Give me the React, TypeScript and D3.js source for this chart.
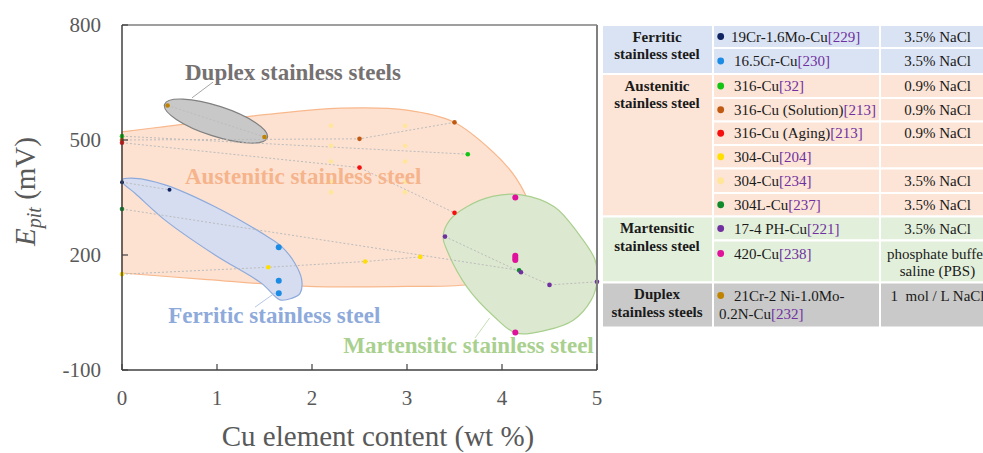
import React from 'react';
import * as d3 from 'd3';

type Pt = [number, number];

// axis ticks
const xTicks = [0, 1, 2, 3, 4, 5];
const yTicks = [-100, 200, 500, 800];

// Cu (wt %), E_pit (mV) for each alloy
const fer19Cr: Pt[] = [[0, 390], [0.5, 370]];
const fer16Cr: Pt[] = [[1.65, 220], [1.65, 133], [1.65, 100]];
const aus316: Pt[] = [[0, 510], [3.64, 463]];
const aus316Sol: Pt[] = [[0, 500], [2.5, 503], [3.5, 546]];
const aus316Age: Pt[] = [[0, 493], [2.5, 428], [3.5, 310]];
const aus304a: Pt[] = [[0, 150], [1.54, 168], [2.56, 183], [3.14, 195]];
const aus304b: Pt[] = [
  [2.2, 537], [2.2, 485], [2.2, 444], [2.2, 391], [2.2, 364],
  [2.98, 537], [2.98, 485], [2.98, 444], [2.98, 391], [2.98, 364],
];
const aus304L: Pt[] = [[0, 320], [4.18, 160]];
const mar174: Pt[] = [[3.4, 248], [4.2, 155], [4.5, 122], [5, 130]];
const mar420: Pt[] = [[4.14, 350], [4.14, 198], [4.14, 192], [4.14, 187], [4.14, -2]];
const dup21Cr: Pt[] = [[0.48, 590], [1.5, 508]];

// hand drawn group outlines (data space)
const austeniticOutline: Pt[] = [
  [0, 521], [0.45, 535], [1.5, 566], [2.3, 583], [3.0, 578], [3.49, 547], [3.9, 470],
  [4.15, 400], [4.3, 320], [4.3, 230], [4.1, 160], [3.7, 125], [3.0, 118], [1.9, 119],
  [0.9, 136], [0, 153],
];
const ferriticOutline: Pt[] = [
  [0, 396], [0.137, 400], [0.453, 383], [0.979, 326], [1.505, 252], [1.681, 222],
  [1.821, 178], [1.892, 135], [1.874, 100], [1.786, 87], [1.663, 83], [1.47, 126],
  [0.979, 200], [0.453, 291], [0.137, 361], [0.014, 387],
];
const martensiticOutline: Pt[] = [
  [4.2, 357], [4.55, 326], [4.8, 257], [4.98, 187], [5.0, 131], [4.94, 83], [4.75, 30],
  [4.47, 4], [4.15, -4], [3.91, 41], [3.63, 117], [3.42, 213], [3.38, 248], [3.45, 291],
  [3.63, 326], [3.9, 353],
];
const duplexAxis: Pt[] = [[0.448, 593], [1.53, 506]];

const series = [
  { key: 'fer19Cr', name: ['19Cr-1.6Mo-Cu'], ref: '[229]', medium: ['3.5% NaCl'], color: '#0f2461', data: fer19Cr, joined: true, r: 2 },
  { key: 'fer16Cr', name: ['16.5Cr-Cu'], ref: '[230]', medium: ['3.5% NaCl'], color: '#1b8be4', data: fer16Cr, joined: false, r: 3 },
  { key: 'aus316', name: ['316-Cu'], ref: '[32]', medium: ['0.9% NaCl'], color: '#14c414', data: aus316, joined: true, r: 2.3 },
  { key: 'aus316Sol', name: ['316-Cu (Solution)'], ref: '[213]', medium: ['0.9% NaCl'], color: '#c05a12', data: aus316Sol, joined: true, r: 2.3 },
  { key: 'aus316Age', name: ['316-Cu (Aging)'], ref: '[213]', medium: ['0.9% NaCl'], color: '#f50f0f', data: aus316Age, joined: true, r: 2.3 },
  { key: 'aus304a', name: ['304-Cu'], ref: '[204]', medium: [''], color: '#ffdf00', data: aus304a, joined: true, r: 2.3 },
  { key: 'aus304b', name: ['304-Cu'], ref: '[234]', medium: ['3.5% NaCl'], color: '#ffe699', data: aus304b, joined: false, r: 2.3 },
  { key: 'aus304L', name: ['304L-Cu'], ref: '[237]', medium: ['3.5% NaCl'], color: '#118a2c', data: aus304L, joined: true, r: 2.3 },
  { key: 'mar174', name: ['17-4 PH-Cu'], ref: '[221]', medium: ['3.5% NaCl'], color: '#7030a0', data: mar174, joined: true, r: 2.3 },
  { key: 'mar420', name: ['420-Cu'], ref: '[238]', medium: ['phosphate buffer', 'saline (PBS)'], color: '#e0119b', data: mar420, joined: false, r: 3 },
  { key: 'dup21Cr', name: ['21Cr-2 Ni-1.0Mo-', '0.2N-Cu'], ref: '[232]', medium: ['1\u00a0 mol / L NaCl'], color: '#bf8300', data: dup21Cr, joined: true, r: 2.3 },
];

const groups = [
  { name: ['Ferritic', 'stainless steel'], fill: '#dae3f3', rows: ['fer19Cr', 'fer16Cr'] },
  { name: ['Austenitic', 'stainless steel'], fill: '#fce4d6', rows: ['aus316', 'aus316Sol', 'aus316Age', 'aus304a', 'aus304b', 'aus304L'] },
  { name: ['Martensitic', 'stainless steel'], fill: '#e2efda', rows: ['mar174', 'mar420'] },
  { name: ['Duplex', 'stainless steels'], fill: '#c9c9c9', rows: ['dup21Cr'] },
];

const SERIF = "'Liberation Serif', 'Times New Roman', serif";
const AXIS_GRAY = '#595959';

function Legend() {
  const rowHeights = [23, 26, 24, 23.5, 23.5, 23.5, 24.5, 23.5, 24, 42, 45];
  const c0 = 602, c1 = 713, c2 = 880, c3 = 1000;
  const mid = 937.5;
  let top = 25;
  let ri = 0;
  const out: React.ReactNode[] = [];
  groups.forEach((g, gi) => {
    const gTop = top;
    const rows: React.ReactNode[] = [];
    g.rows.forEach((k) => {
      const s = series.find((d) => d.key === k)!;
      const h = rowHeights[ri];
      const multi = s.name.length > 1 || s.medium.length > 1;
      const base = multi ? top + 18 : top + h / 2 + 5;
      rows.push(
        <g key={k}>
          <rect x={c1} y={top} width={c2 - c1} height={h} fill={g.fill} stroke="#fff" strokeWidth={2} />
          <rect x={c2} y={top} width={c3 - c2} height={h} fill={g.fill} stroke="#fff" strokeWidth={2} />
          <circle cx={720.7} cy={base - 5} r={3.4} fill={s.color} />
          {s.name.map((line, li) => (
            <text key={li} x={li === 0 ? (ri === 0 ? 731 : 734) : 719} y={base + li * 18.3} fontSize={15} fill="#1a1a1a">
              {line}
              {li === s.name.length - 1 && <tspan fill="#7030a0">{s.ref}</tspan>}
            </text>
          ))}
          {s.medium.map((line, li) => (
            <text key={'m' + li} x={mid} y={base + li * 17} fontSize={15} fill="#1a1a1a" textAnchor="middle">
              {line}
            </text>
          ))}
        </g>
      );
      top += h;
      ri++;
    });
    out.push(
      <g key={gi}>
        <rect x={c0} y={gTop} width={c1 - c0} height={top - gTop} fill={g.fill} stroke="#fff" strokeWidth={2} />
        {g.name.map((line, li) => (
          <text key={li} x={657} y={gTop + 16.5 + li * 17.5} fontSize={15} fontWeight="bold" textAnchor="middle" fill="#1a1a1a">
            {line}
          </text>
        ))}
        {rows}
      </g>
    );
  });
  return <g fontFamily={SERIF}>{out}</g>;
}

const App = () => {
  const margin = { top: 25, right: 386, bottom: 83, left: 122 };
  const W = 983, H = 453;
  const width = W - margin.left - margin.right;
  const height = H - margin.top - margin.bottom;

  const x = d3.scaleLinear().domain([0, 5]).range([margin.left, margin.left + width]);
  const y = d3.scaleLinear().domain([-100, 800]).range([margin.top + height, margin.top]);

  const line = d3.line<Pt>().x((d) => x(d[0])).y((d) => y(d[1]));
  const ausPath = line.curve(d3.curveCatmullRom.alpha(0.5))(austeniticOutline) + 'Z';
  const ferPath = line.curve(d3.curveCatmullRomClosed.alpha(0.5))(ferriticOutline)!;
  const marPath = line.curve(d3.curveCatmullRomClosed.alpha(0.5))(martensiticOutline)!;
  const dotted = d3.line<Pt>().x((d) => x(d[0])).y((d) => y(d[1]));

  const [e0, e1] = duplexAxis.map(([a, b]) => [x(a), y(b)]);
  const ecx = (e0[0] + e1[0]) / 2, ecy = (e0[1] + e1[1]) / 2;
  const erx = Math.hypot(e1[0] - e0[0], e1[1] - e0[1]) / 2;
  const eAng = (Math.atan2(e1[1] - e0[1], e1[0] - e0[0]) * 180) / Math.PI;

  const x0 = margin.left, x1 = margin.left + width, y0 = margin.top, y1 = margin.top + height;

  return (
    <svg width={W} height={H} style={{ position: 'absolute', left: 0, top: 0 }} fontFamily={SERIF}>
      <rect width={W} height={H} fill="#fff" />

      {/* group regions */}
      <path d={ausPath} fill="#fde2d2" stroke="#f8b88c" strokeWidth={1.2} />
      <path d={ferPath} fill="#d6ddf0" stroke="#8eaadb" strokeWidth={1.2} />
      <path d={marPath} fill="#dde8d0" stroke="#a9cf8e" strokeWidth={1.2} />
      <ellipse cx={ecx} cy={ecy} rx={erx} ry={erx * 0.28} transform={`rotate(${eAng} ${ecx} ${ecy})`}
        fill="#c8c8c8" stroke="#808080" strokeWidth={1.2} />

      {/* leaders */}
      <line x1={x(0.958)} y1={y(651)} x2={x(0.737)} y2={y(610)} stroke="#a6a6a6" strokeWidth={1} />
      <line x1={x(1.4)} y1={y(64)} x2={x(1.61)} y2={y(101)} stroke="#b4c7e7" strokeWidth={1} />
      <line x1={x(3.716)} y1={y(-16.5)} x2={x(3.87)} y2={y(35.7)} stroke="#c5e0b4" strokeWidth={1} />

      {/* dotted connections */}
      {series.filter((s) => s.joined).map((s) => (
        <path key={s.key} d={dotted(s.data)!} fill="none" stroke="#bcbcbc" strokeWidth={1} strokeDasharray="2,2" />
      ))}

      {/* points */}
      {series.map((s) => (
        <g key={s.key}>
          {s.data.map((d, i) => (
            <circle key={i} cx={x(d[0])} cy={y(d[1])} r={s.r} fill={s.color} />
          ))}
        </g>
      ))}

      {/* region labels */}
      <text x={x(0.663)} y={y(656.5)} fontSize={23} fontWeight="bold" fill="#767171">Duplex stainless steels</text>
      <text x={x(0.663)} y={y(384.5)} fontSize={23} fontWeight="bold" fill="#f6b48c">Austenitic stainless steel</text>
      <text x={x(0.487)} y={y(22)} fontSize={23} fontWeight="bold" fill="#8eaadb">Ferritic stainless steel</text>
      <text x={x(2.33)} y={y(-56.4)} fontSize={23} fontWeight="bold" fill="#a9d08e">Martensitic stainless steel</text>

      {/* frame and axes */}
      <line x1={x0} y1={y0} x2={x1} y2={y0} stroke="#404040" strokeWidth={1.2} />
      <line x1={x1} y1={y0} x2={x1} y2={y1} stroke="#808080" strokeWidth={2} />
      <line x1={x0} y1={y0} x2={x0} y2={y1} stroke="#404040" strokeWidth={1.5} />
      <line x1={x0} y1={y1} x2={x1} y2={y1} stroke="#404040" strokeWidth={1.5} />

      {xTicks.map((t) => (
        <g key={t}>
          <line x1={x(t)} x2={x(t)} y1={y1} y2={y1 - 6} stroke="#404040" strokeWidth={1.2} />
          <text x={x(t)} y={y1 + 35} fontSize={21} textAnchor="middle" fill={AXIS_GRAY}>{t}</text>
        </g>
      ))}
      {yTicks.map((t) => (
        <g key={t}>
          <line x1={x0} x2={x0 + 6} y1={y(t)} y2={y(t)} stroke="#404040" strokeWidth={1.2} />
          <text x={101} y={y(t) + 7} fontSize={21} textAnchor="end" fill={AXIS_GRAY}>{t}</text>
        </g>
      ))}

      <text x={378} y={446} fontSize={29} textAnchor="middle" fill={AXIS_GRAY}>Cu element content (wt %)</text>
      <text transform="translate(35,191.5) rotate(-90)" fontSize={29} textAnchor="middle" fill={AXIS_GRAY}>
        <tspan fontStyle="italic">E</tspan>
        <tspan fontStyle="italic" fontSize={20} dy={6}>pit</tspan>
        <tspan dy={-6}> (mV)</tspan>
      </text>

      <Legend />
    </svg>
  );
};

export default App;
